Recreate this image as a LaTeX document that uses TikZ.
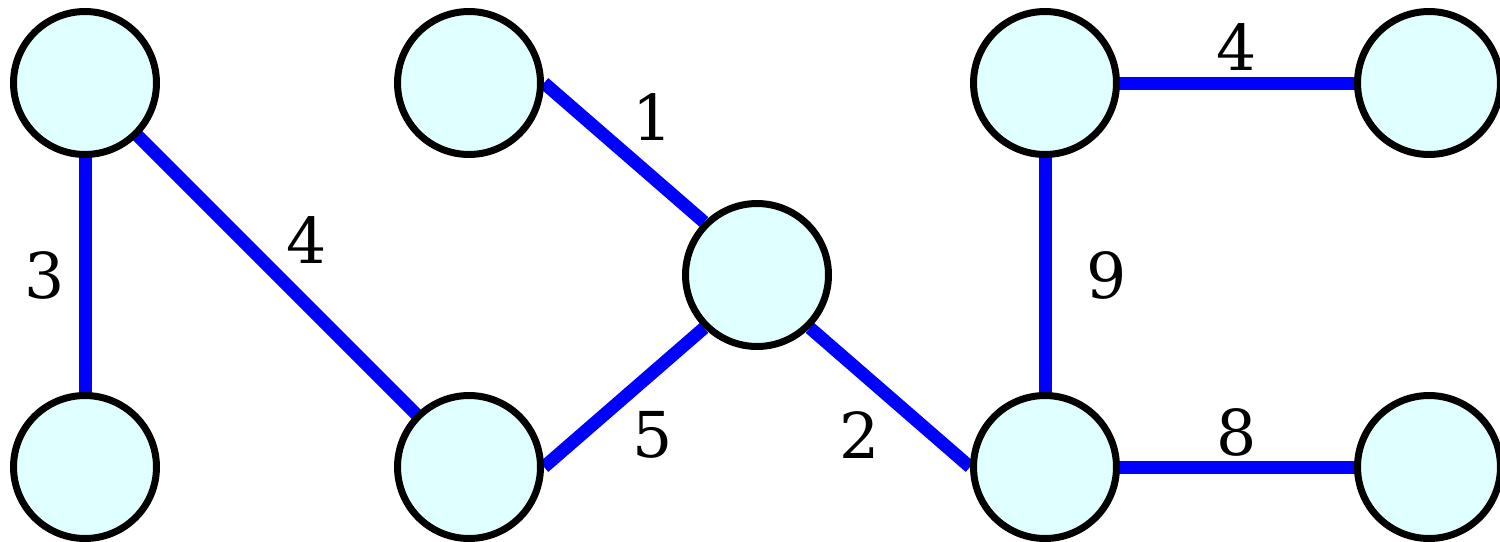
\documentclass[tikz,border=0pt]{standalone}
\usepackage{fontspec}
\setmainfont{DejaVu Serif}
\usepackage{xcolor}
\usepackage{tikz}
\usetikzlibrary{backgrounds}

\definecolor{vfill}{HTML}{E0FFFF}
\definecolor{eblue}{HTML}{0000FF}

\begin{document}
\begin{tikzpicture}[
    x=0.02cm, y=-0.02cm,
    vertex/.style={draw=black, circle, fill=vfill, line width=7*0.02cm, minimum size=2.86cm, inner sep=0pt},
    edge/.style={draw=eblue, line width=13*0.02cm},
    wlabel/.style={inner sep=0pt, font=\fontsize{36}{36}\selectfont}
  ]
  \useasboundingbox (0,0) rectangle (1500,541);
  % Nodes
  \node[vertex] (a) at (85,83) {};
  \node[vertex] (b) at (85,467) {};
  \node[vertex] (c) at (469,83) {};
  \node[vertex] (d) at (469,467) {};
  \node[vertex] (e) at (757,275) {};
  \node[vertex] (f) at (1045,83) {};
  \node[vertex] (g) at (1045,467) {};
  \node[vertex] (h) at (1429,83) {};
  \node[vertex] (i) at (1429,467) {};

  % Edges
  \begin{scope}[on background layer]
    \draw[edge] (a.center) -- (b.center);
    \draw[edge] (a.center) -- (d.center);
    \draw[edge] (c.east) -- (e.north west);
    \draw[edge] (d.east) -- (e.south west);
    \draw[edge] (e.south east) -- (g.west);
    \draw[edge] (f.center) -- (g.center);
    \draw[edge] (f.center) -- (h.center);
    \draw[edge] (g.center) -- (i.center);
  \end{scope}

  % Weights
  \node[wlabel] (wab) at (45,275) {3};
  \node[wlabel] (wad) at (307,240) {4};
  \node[wlabel] (wce) at (653,117) {1};
  \node[wlabel] (wde) at (653,435) {5};
  \node[wlabel] (weg) at (860,435) {2};
  \node[wlabel] (wfg) at (1107,275) {9};
  \node[wlabel] (wfh) at (1237,47) {4};
  \node[wlabel] (wgi) at (1237,432) {8};
\end{tikzpicture}
\end{document}
